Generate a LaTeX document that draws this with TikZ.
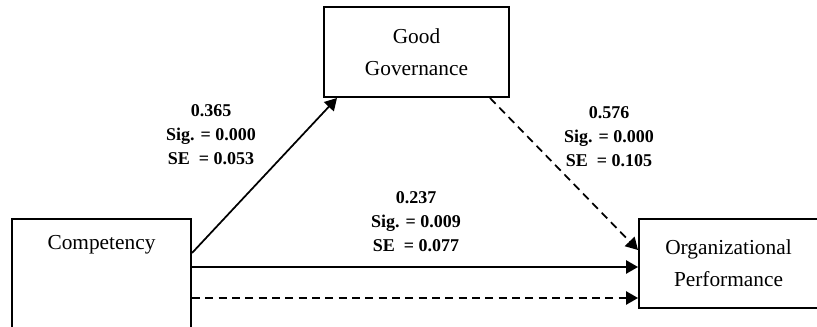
\documentclass[tikz,border=0pt]{standalone}
\usepackage{fontspec}
\setmainfont{Liberation Serif}
\usetikzlibrary{positioning, arrows.meta}

\begin{document}
\begin{tikzpicture}[x=0.75pt, y=-0.75pt, >={Triangle[length=9pt,width=10pt]},
    blk/.style={draw, line width=1.5pt, minimum width=134.25pt,
                font=\fontsize{16}{24}\selectfont, align=center, inner sep=0pt},
    est/.style={font=\fontsize{13.5}{18}\selectfont\bfseries, align=center},
    lnk/.style={->, line width=1.3pt},
    dsh/.style={lnk, dash pattern=on 6pt off 4pt}]
  \useasboundingbox (0,0) rectangle (817,327);
  \clip (0,0) rectangle (817,327);
  \node[blk, minimum height=105pt, anchor=north west,
        label={[anchor=base, yshift=-24pt, font=\fontsize{16}{24}\selectfont]north:Competency}]
        (comp) at (11,218) {};
  \node[blk, minimum width=138.75pt, minimum height=67.5pt,
        above right=90pt and 234pt of comp.north west] (gg) {Good\\Governance};
  \node[blk, minimum height=66.75pt, right=334.5pt of comp.north east,
        anchor=north west] (op) {Organizational\\Performance};
  \draw[lnk] ([yshift=-26.25pt]comp.north east) -- ([xshift=10.5pt]gg.south west);
  \draw[dsh] ([xshift=-15pt]gg.south east) -- ([yshift=-24pt]op.north west);
  \draw[lnk] ([yshift=-36.75pt]comp.north east) -- ([yshift=-36.75pt]op.north west);
  \draw[dsh] ([yshift=-60pt]comp.north east) -- ([yshift=-60pt]op.north west);
  \node[est] (e1) at (211,134.5) {0.365\\Sig. = 0.000\\SE\ \ = 0.053};
  \node[est] (e2) at (609,137) {0.576\\Sig. = 0.000\\SE\ \ = 0.105};
  \node[est] (e3) at (416,222) {0.237\\Sig. = 0.009\\SE\ \ = 0.077};
\end{tikzpicture}
\end{document}
